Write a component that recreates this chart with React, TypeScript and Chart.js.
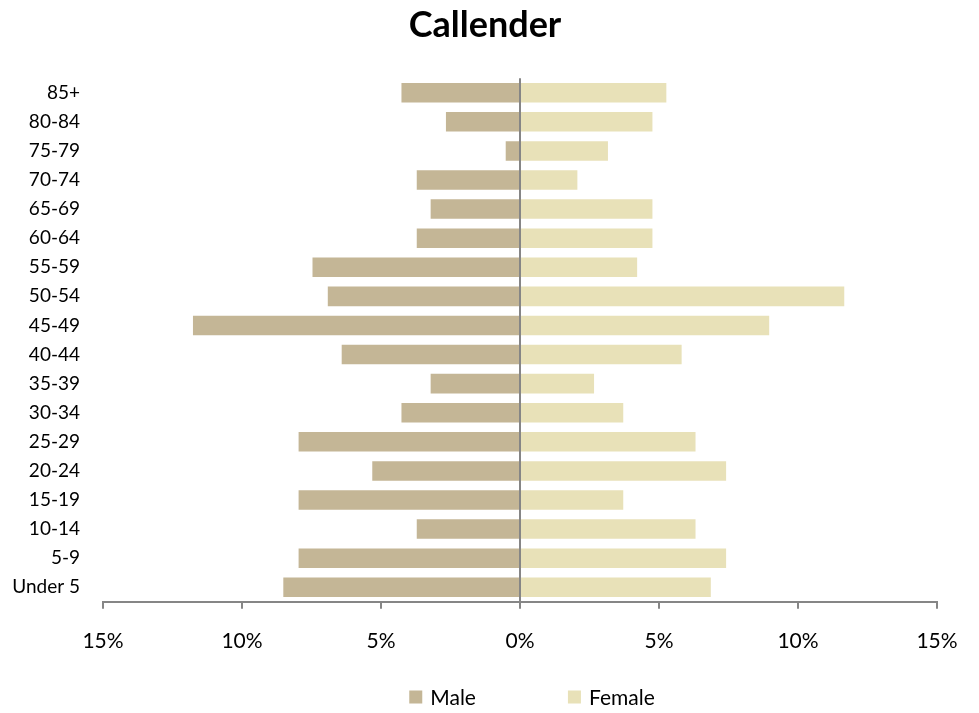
import React, { useEffect, useRef } from "react";
import { Chart, registerables } from "chart.js";

Chart.register(...registerables);

const TITLE = "Callender";
const AGE_GROUPS = [
  "85+", "80-84", "75-79", "70-74", "65-69", "60-64", "55-59", "50-54", "45-49",
  "40-44", "35-39", "30-34", "25-29", "20-24", "15-19", "10-14", "5-9", "Under 5",
];
// percent of population (male shown to the left)
const MALE = [4.3, 2.7, 0.55, 3.75, 3.25, 3.75, 7.5, 6.95, 11.8, 6.45, 3.25, 4.3, 8.0, 5.35, 8.0, 3.75, 8.0, 8.55];
const FEMALE = [5.3, 4.8, 3.2, 2.1, 4.8, 4.8, 4.25, 11.7, 9.0, 5.85, 2.7, 3.75, 6.35, 7.45, 3.75, 6.35, 7.45, 6.9];
const X_TICKS = [-15, -10, -5, 0, 5, 10, 15];

const MALE_COLOR = "#C4B696";
const FEMALE_COLOR = "#E8E1B8";
const FONT = "Lato, 'Open Sans', sans-serif";

const legendPlugin = {
  id: "customLegend",
  afterDraw(chart: any) {
    const { ctx, chartArea } = chart;
    const ds = chart.data.datasets;
    const box = 13;
    const gapText = 8;
    const gapItem = 92;
    ctx.save();
    ctx.font = `21px ${FONT}`;
    ctx.textBaseline = "middle";
    ctx.textAlign = "left";
    const widths = ds.map((d: any) => box + gapText + ctx.measureText(d.label).width);
    const total = widths.reduce((a: number, b: number) => a + b, 0) + gapItem * (ds.length - 1);
    let x = (chartArea.left + chartArea.right) / 2 + 12 - total / 2;
    const y = chart.height - 8;
    ds.forEach((d: any, i: number) => {
      ctx.fillStyle = d.backgroundColor;
      ctx.fillRect(x, y - box / 2, box, box);
      ctx.fillStyle = "#000";
      ctx.fillText(d.label, x + box + gapText, y + 1);
      x += widths[i] + gapItem;
    });
    ctx.restore();
  },
};

export default function App() {
  const ref = useRef<HTMLCanvasElement | null>(null);
  useEffect(() => {
    if (!ref.current) return;
    const chart = new Chart(ref.current, {
      type: "bar",
      data: {
        labels: AGE_GROUPS,
        datasets: [
          {
            label: "Male",
            data: MALE.map((v) => -v),
            backgroundColor: MALE_COLOR,
            borderColor: "rgba(255,255,255,0.35)",
            borderWidth: 1,
            categoryPercentage: 0.74,
            barPercentage: 1,
          },
          {
            label: "Female",
            data: FEMALE,
            backgroundColor: FEMALE_COLOR,
            borderColor: "rgba(255,255,255,0.35)",
            borderWidth: 1,
            categoryPercentage: 0.74,
            barPercentage: 1,
          },
        ],
      },
      plugins: [legendPlugin],
      options: {
        indexAxis: "y",
        animation: false,
        responsive: true,
        maintainAspectRatio: false,
        layout: { padding: { left: 0, right: 9, top: 0, bottom: 31 } },
        plugins: {
          legend: { display: false },
          tooltip: { enabled: false },
          title: {
            display: true,
            text: TITLE,
            color: "#000",
            font: { family: FONT, size: 36, weight: "bold" },
            padding: { top: -4, bottom: 31 },
          },
        },
        scales: {
          x: {
            stacked: true,
            min: -15,
            max: 15,
            z: 1,
            afterBuildTicks: (scale: any) => {
              scale.ticks = X_TICKS.map((v) => ({ value: v }));
            },
            afterFit: (scale: any) => {
              scale.paddingLeft = 0;
              scale.paddingRight = 34;
            },
            ticks: {
              callback: (v: any) => Math.abs(Number(v)) + "%",
              color: "#000",
              font: { family: FONT, size: 21 },
              padding: 20,
              maxRotation: 0,
            },
            grid: {
              drawOnChartArea: true,
              color: (ctx: any) => (ctx.tick && ctx.tick.value === 0 ? "#868686" : "rgba(0,0,0,0)"),
              lineWidth: 2,
              tickColor: "#868686",
              tickLength: 7,
            },
            border: { display: true, color: "#868686", width: 2 },
          },
          y: {
            stacked: true,
            afterFit: (scale: any) => {
              scale.width = 95;
            },
            ticks: {
              color: "#000",
              font: { family: FONT, size: 19 },
              padding: 23,
              autoSkip: false,
            },
            grid: { display: false, drawTicks: false },
            border: { display: false },
          },
        },
      },
    } as any);
    return () => chart.destroy();
  }, []);
  return (
    <div style={{ width: "100%", height: 697, position: "relative" }}>
      <canvas ref={ref} />
    </div>
  );
}
